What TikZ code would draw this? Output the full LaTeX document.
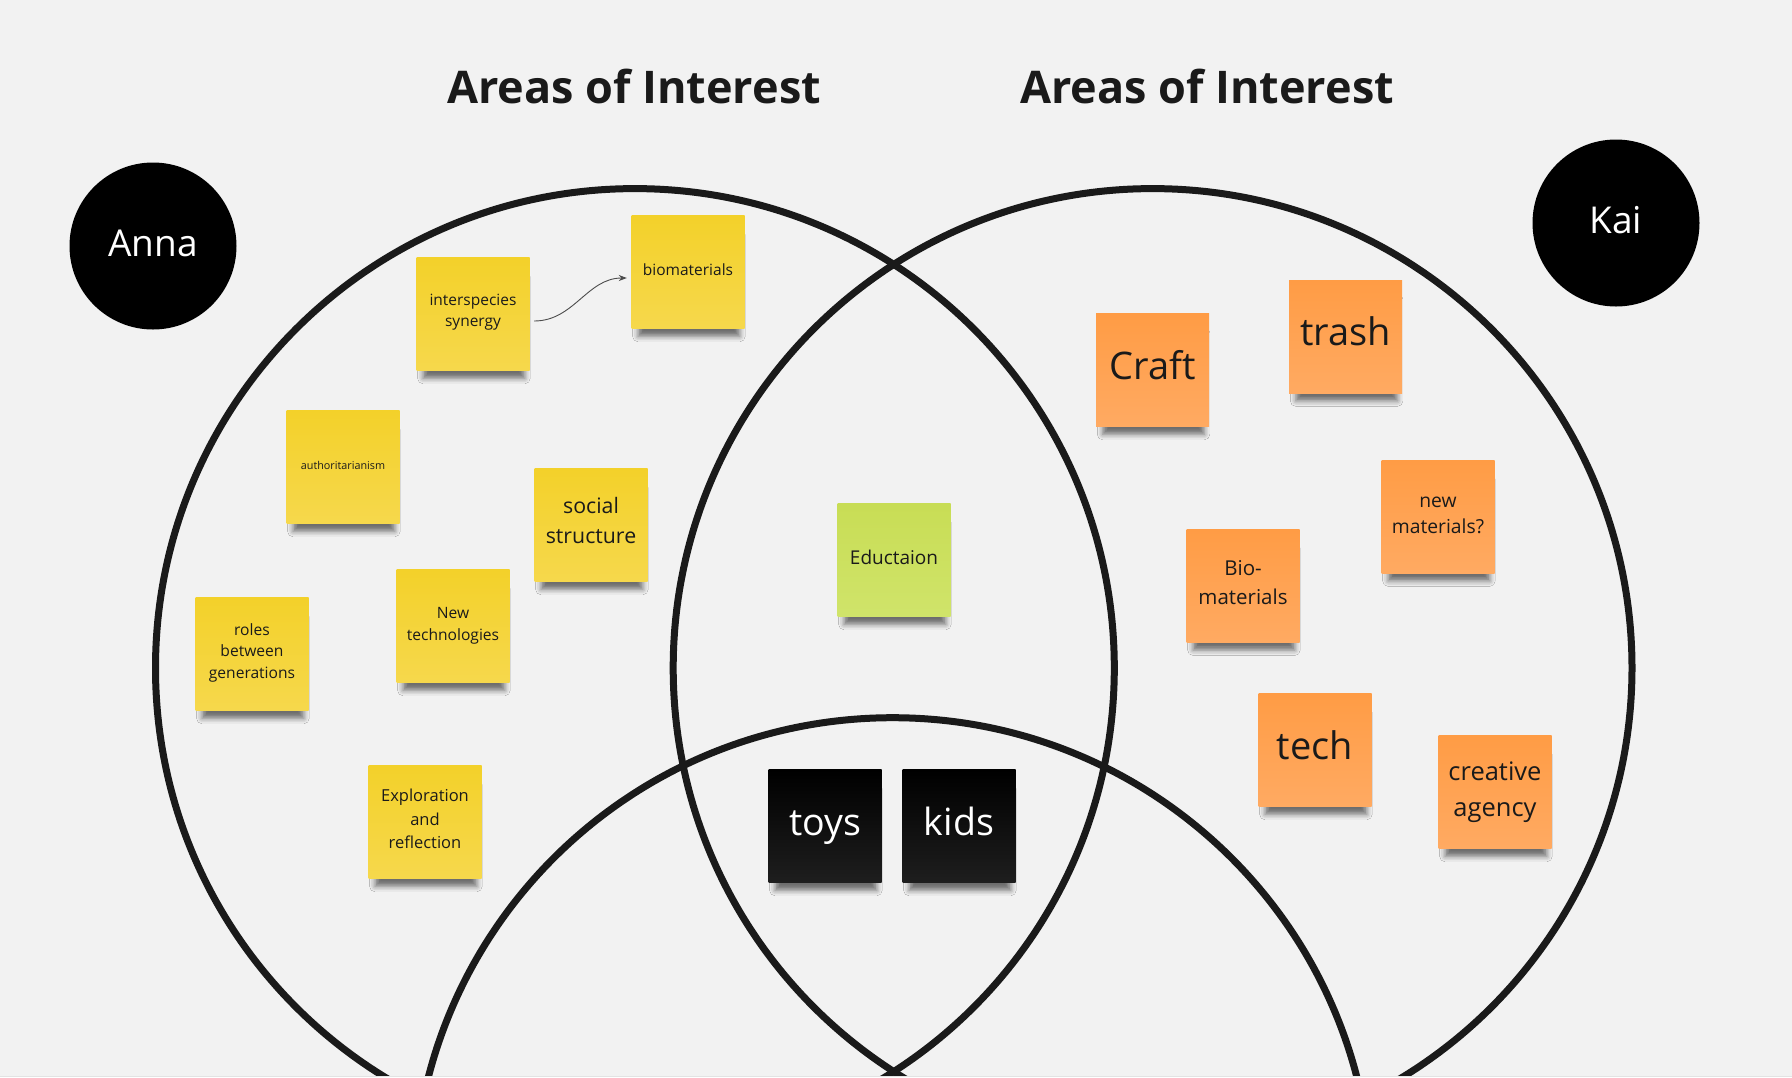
\documentclass[tikz,border=0pt]{standalone}
\usepackage{fontspec}
\setmainfont{Open Sans}
\usetikzlibrary{shadows.blur,arrows.meta}
\definecolor{bg}{HTML}{F2F2F2}
\definecolor{ink}{HTML}{1A1A1A}
\definecolor{yelt}{HTML}{F3D12A}
\definecolor{yelb}{HTML}{F6D84C}
\definecolor{orgt}{HTML}{FF9C45}
\definecolor{orgb}{HTML}{FFAA62}
\definecolor{grnt}{HTML}{C8DD55}
\definecolor{grnb}{HTML}{D0E46A}
\definecolor{blkb}{HTML}{1E1E1E}
\tikzset{
  ring/.style={draw=ink, line width=7pt},
  note/.style={minimum width=113pt, minimum height=113pt, inner sep=0pt,
    align=center, text width=108pt, text=ink,
    blur shadow={shadow xshift=1pt, shadow yshift=-15pt, shadow scale=0.9,
      shadow blur radius=6pt, shadow opacity=55}},
  oneline/.style={text height={0.74*#1pt}, text depth={0.26*#1pt}},
  ynote/.style={note, top color=yelt, bottom color=yelb},
  onote/.style={note, top color=orgt, bottom color=orgb},
  gnote/.style={note, top color=grnt, bottom color=grnb},
  knote/.style={note, top color=black, bottom color=blkb, text=white},
  person/.style={circle, fill=black, minimum size=167pt, inner sep=0pt,
    text=white, font=\fontsize{37}{44}\selectfont, text height=27.4pt, text depth=7.4pt},
  title/.style={anchor=base, text=ink, font=\bfseries\fontsize{45}{54}\selectfont},
  link/.style={draw=black!70, line width=0.9pt, -{Stealth[length=8pt,width=6pt]}}
}
\begin{document}
\begin{tikzpicture}[x=1pt,y=1pt]
\useasboundingbox (0,0) rectangle (1792,-1077);
\fill[bg] (0,0) rectangle (1792,-1077);
\fill[black!11] (0,-1075.5) rectangle (1792,-1077);
\begin{scope}
\clip (0,0) rectangle (1792,-1075.5);
\draw[ring] (634.9,-668) circle (479.4);
\draw[ring] (1152.6,-668) circle (479.4);
\draw[ring] (892.6,-1197.1) circle (479.4);
\end{scope}

\node[title] (t1) at (634,-103) {Areas of Interest};
\node[title] (t2) at (1207,-103) {Areas of Interest};

\node[person] (anna) at (153,-246) {Anna};
\node[person] (kai) at (1616,-223) {Kai};

\node[ynote, text depth=28pt, font=\fontsize{15.5}{21}\selectfont] (inter) at (473,-314) {interspecies\\synergy};
\node[ynote, oneline=15.5, font=\fontsize{15.5}{21}\selectfont] (bio) at (688,-272) {biomaterials};
\node[ynote, oneline=10.8, font=\fontsize{10.8}{14}\selectfont] (auth) at (343,-467) {authoritarianism};
\node[ynote, text depth=38.7pt, font=\fontsize{21.3}{29.5}\selectfont] (social) at (591,-525) {social\\structure};
\node[ynote, font=\fontsize{15.6}{21.7}\selectfont] (newtech) at (453,-626) {New\\technologies};
\node[ynote, text depth=49.4pt, font=\fontsize{15.6}{21.7}\selectfont] (roles) at (252,-654) {roles\\between\\generations};
\node[ynote, text depth=52.6pt, font=\fontsize{16.5}{23.4}\selectfont] (explor) at (425,-822) {Exploration\\and\\reflection};
\node[gnote, oneline=19, font=\fontsize{19}{26}\selectfont] (educ) at (894,-560) {Eductaion};

\node[onote, oneline=38, font=\fontsize{38}{50}\selectfont] (craft) at (1152.6,-370) {Craft};
\node[onote, oneline=38, font=\fontsize{38}{50}\selectfont] (trash) at (1345.7,-336.6) {trash};
\node[onote, text depth=28.5pt, font=\fontsize{19.3}{26.3}\selectfont] (newmat) at (1438,-516.6) {new\\materials?};
\node[onote, text depth=35.4pt, font=\fontsize{20.5}{28.6}\selectfont] (biomat) at (1243,-585.7) {Bio-\\materials};
\node[onote, oneline=38, font=\fontsize{38}{50}\selectfont] (tech) at (1315,-750) {tech};
\node[onote, font=\fontsize{25.5}{35.4}\selectfont] (creative) at (1495,-792) {creative\\agency};

\node[knote, oneline=37.5, font=\fontsize{37.5}{50}\selectfont] (toys) at (825,-826) {toys};
\node[knote, oneline=37.5, font=\fontsize{37.5}{50}\selectfont] (kids) at (959,-826) {kids};

\draw[link] ([xshift=4.5pt,yshift=-7pt]inter.east) to[out=0,in=180] ([xshift=-4.5pt,yshift=-6pt]bio.west);
\end{tikzpicture}
\end{document}
